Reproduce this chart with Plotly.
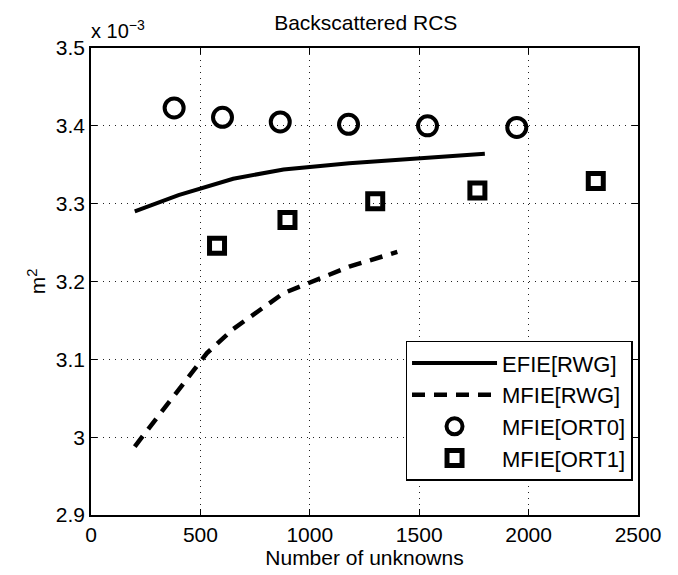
import plotly.graph_objects as go

# Data (y in units of 1e-3 m^2)
efie_x = [200, 400, 650, 880, 1180, 1800]
efie_y = [3.290, 3.311, 3.332, 3.344, 3.352, 3.364]
mfie_x = [200, 530, 650, 880, 1180, 1400]
mfie_y = [2.988, 3.108, 3.139, 3.185, 3.219, 3.238]
ort0_x = [380, 601, 865, 1177, 1538, 1946]
ort0_y = [3.423, 3.411, 3.405, 3.402, 3.400, 3.398]
ort1_x = [576, 898, 1299, 1766, 2307]
ort1_y = [3.246, 3.279, 3.303, 3.317, 3.329]

xticks = [0, 500, 1000, 1500, 2000, 2500]
yticks = [2.9, 3.0, 3.1, 3.2, 3.3, 3.4, 3.5]
ytick_labels = ["2.9", "3", "3.1", "3.2", "3.3", "3.4", "3.5"]

FONT = "Liberation Sans, Arial, Helvetica, sans-serif"

fig = go.Figure()
fig.add_trace(go.Scatter(x=efie_x, y=efie_y, mode="lines", name="EFIE[RWG]",
                         line=dict(color="black", width=4)))
fig.add_trace(go.Scatter(x=mfie_x, y=mfie_y, mode="lines", name="MFIE[RWG]",
                         line=dict(color="black", width=4.5, dash="13px,9px")))
fig.add_trace(go.Scatter(x=ort0_x, y=ort0_y, mode="markers", name="MFIE[ORT0]",
                         marker=dict(symbol="circle-open", size=19, color="black",
                                     line=dict(color="black", width=4))))
fig.add_trace(go.Scatter(x=ort1_x, y=ort1_y, mode="markers", name="MFIE[ORT1]",
                         marker=dict(symbol="square-open", size=15, color="black",
                                     line=dict(color="black", width=5))))

axis_common = dict(showline=True, linecolor="black", linewidth=1.5, mirror="allticks",
                   ticks="inside", ticklen=6, tickcolor="black",
                   showgrid=True, gridcolor="#222", griddash="1px,5px", gridwidth=1,
                   zeroline=False, tickfont=dict(family=FONT, size=21, color="black"))

fig.update_xaxes(range=[0, 2500], tickvals=xticks,
                 title=dict(text="Number of unknowns", font=dict(family=FONT, size=21, color="black"),
                            standoff=2),
                 **axis_common)
fig.update_yaxes(range=[2.9, 3.5], tickvals=yticks, ticktext=ytick_labels,
                 title=dict(text="m<sup>2</sup>", font=dict(family=FONT, size=21, color="black"),
                            standoff=4),
                 **axis_common)

fig.add_annotation(text="x 10<sup>−3</sup>", xref="paper", yref="paper", x=0, y=1.0,
                   xanchor="left", yanchor="bottom", yshift=4, xshift=-2, showarrow=False,
                   font=dict(family=FONT, size=20, color="black"))

fig.update_layout(
    width=670, height=567,
    margin=dict(l=83, r=40, t=40, b=57),
    plot_bgcolor="white", paper_bgcolor="white",
    title=dict(text="Backscattered RCS", x=0.534, xanchor="center", y=0.975, yanchor="middle",
               font=dict(family=FONT, size=21, color="black")),
    showlegend=True,
    legend=dict(x=0.99, y=0.373, xanchor="right", yanchor="top",
                bordercolor="black", borderwidth=1.5, bgcolor="white",
                font=dict(family=FONT, size=22, color="black"),
                itemwidth=85),
)

fig.write_html("out.html")
